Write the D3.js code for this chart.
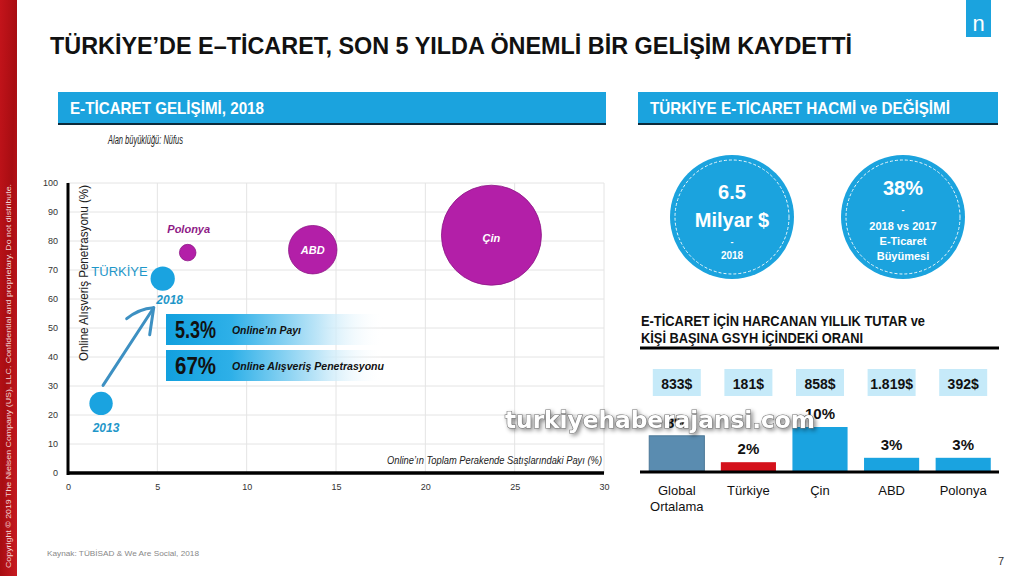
<!DOCTYPE html>
<html><head><meta charset="utf-8">
<script src="https://cdn.jsdelivr.net/npm/d3@7"></script>
<style>
html,body{margin:0;padding:0;background:#fff;}
svg{display:block;font-family:"Liberation Sans",Arial,sans-serif;}
</style></head>
<body>
<svg id="c" width="1024" height="576"></svg>
<script>
// ---------- DATA ----------
const scatterLabels = ["Türkiye 2013", "Türkiye 2018", "Polonya", "ABD", "Çin"];
const scatterX = [1.85, 5.3, 6.7, 13.7, 23.7];          // Online'ın toplam perakende satışlarındaki payı (%)
const scatterY = [24, 67, 76, 77, 82];                   // Online alışveriş penetrasyonu (%)
const population = [76, 82, 38, 327, 1393];              // Nüfus (milyon) – alan büyüklüğü
const scatterGroup = ["tr", "tr", "other", "other", "other"];
const xTicks = [0, 5, 10, 15, 20, 25, 30];
const yTicks = [0, 10, 20, 30, 40, 50, 60, 70, 80, 90, 100];

const barCategories = ["Global Ortalama", "Türkiye", "Çin", "ABD", "Polonya"];
const barPercent = [8, 2, 10, 3, 3];                     // Kişi başına GSYH içindeki oran (%)
const spendValues = ["833$", "181$", "858$", "1.819$", "392$"];
const barGroup = ["global", "tr", "other", "other", "other"];

const kpiMain = [["6.5", "Milyar $"], ["38%"]];
const kpiSub = [["2018"], ["2018 vs 2017", "E-Ticaret", "Büyümesi"]];

// ---------- SETUP ----------
const svg = d3.select("#c");
const BLUE = "#1ba3de";
const defs = svg.append("defs");

// left red stripe
const rg = defs.append("linearGradient").attr("id","red").attr("x1",0).attr("x2",1).attr("y1",0).attr("y2",1);
rg.append("stop").attr("offset",0).attr("stop-color","#c4141b");
rg.append("stop").attr("offset",0.5).attr("stop-color","#a80d12");
rg.append("stop").attr("offset",1).attr("stop-color","#c81c22");
svg.append("rect").attr("x",0).attr("y",0).attr("width",17).attr("height",576).attr("fill","url(#red)");
svg.append("text").attr("transform","translate(11,568) rotate(-90)")
  .attr("fill","#f3d6d6").attr("font-size",7.5)
  .attr("textLength",384).attr("lengthAdjust","spacingAndGlyphs")
  .text("Copyright © 2019 The Nielsen Company (US), LLC. Confidential and proprietary. Do not distribute.");

// logo
svg.append("rect").attr("x",966).attr("y",0).attr("width",25).attr("height",37).attr("fill",BLUE);
svg.append("text").attr("x",978.5).attr("y",31).attr("text-anchor","middle").attr("fill","#fff")
  .attr("font-size",22).text("n");

// title
svg.append("text").attr("x",50).attr("y",54).attr("font-size",24).attr("font-weight","bold").attr("fill","#111")
  .attr("textLength",802).attr("lengthAdjust","spacingAndGlyphs")
  .text("TÜRKİYE’DE E–TİCARET, SON 5 YILDA ÖNEMLİ BİR GELİŞİM KAYDETTİ");

// section headers
function header(x, w, txt, tl){
  svg.append("rect").attr("x",x).attr("y",92).attr("width",w).attr("height",31).attr("fill",BLUE);
  svg.append("rect").attr("x",x).attr("y",123).attr("width",w).attr("height",2).attr("fill","#0d2a3a");
  svg.append("text").attr("x",x+12).attr("y",114).attr("fill","#fff").attr("font-size",17).attr("font-weight","bold")
    .attr("textLength",tl).attr("lengthAdjust","spacingAndGlyphs").text(txt);
}
header(58, 548, "E-TİCARET GELİŞİMİ, 2018", 194);
header(638, 360, "TÜRKİYE E-TİCARET HACMİ ve DEĞİŞİMİ", 300);

svg.append("text").attr("x",108).attr("y",144).attr("font-size",12).attr("font-style","italic").attr("fill","#222")
  .attr("textLength",75).attr("lengthAdjust","spacingAndGlyphs").text("Alan büyüklüğü: Nüfus");

// ---------- SCATTER ----------
const x = d3.scaleLinear().domain([0,30]).range([68,604]);
const y = d3.scaleLinear().domain([0,100]).range([473,183]);
const r = d3.scaleSqrt().domain([0,1393]).range([0,50]);

const g = svg.append("g");
g.selectAll("line.vg").data(xTicks.slice(1)).join("line").attr("class","vg")
  .attr("x1",d=>x(d)).attr("x2",d=>x(d)).attr("y1",y(100)).attr("y2",y(0)).attr("stroke","#e4e4e4");
g.selectAll("line.hg").data(yTicks.slice(1)).join("line").attr("class","hg")
  .attr("x1",x(0)).attr("x2",x(30)).attr("y1",d=>y(d)).attr("y2",d=>y(d)).attr("stroke","#e4e4e4");

const xAxis = d3.axisBottom(x).tickValues(xTicks).tickSize(0).tickPadding(11);
const gx = g.append("g").attr("transform",`translate(0,${y(0)})`).call(xAxis);
gx.select(".domain").remove();
gx.selectAll("text").attr("font-size",9).attr("fill","#333").attr("font-family","Liberation Sans, Arial");
const yAxis = d3.axisLeft(y).tickValues(yTicks).tickSize(0).tickPadding(10);
const gy = g.append("g").attr("transform",`translate(${x(0)},0)`).call(yAxis);
gy.select(".domain").remove();
gy.selectAll("text").attr("font-size",9).attr("fill","#333").attr("font-family","Liberation Sans, Arial");

g.append("line").attr("x1",x(0)).attr("x2",x(0)).attr("y1",y(100)).attr("y2",y(0)+2).attr("stroke","#000").attr("stroke-width",3);
g.append("line").attr("x1",x(0)-1).attr("x2",x(30)).attr("y1",y(0)).attr("y2",y(0)).attr("stroke","#000").attr("stroke-width",3.5);

g.append("text").attr("transform",`translate(${x(0)+20},${y(100)+2}) rotate(-90)`).attr("text-anchor","end")
  .attr("font-size",13).attr("fill","#222")
  .attr("textLength",176).attr("lengthAdjust","spacingAndGlyphs").text("Online Alışveriş Penetrasyonu (%)");
g.append("text").attr("x",x(30)-2).attr("y",y(0)-9).attr("text-anchor","end")
  .attr("font-size",10).attr("font-style","italic").attr("fill","#222")
  .attr("textLength",215).attr("lengthAdjust","spacingAndGlyphs").text("Online’ın Toplam Perakende Satışlarındaki Payı (%)");

// arrow 2013 -> 2018
const ARC = "#3d90c2";
const tipX = x(scatterX[1]) - 9, tipY = y(scatterY[1]) + 29;
g.append("path").attr("d",`M${x(scatterX[0])+2},${y(scatterY[0])-18} L${tipX},${tipY}`)
  .attr("stroke",ARC).attr("stroke-width",3).attr("fill","none").attr("stroke-linecap","round");
g.append("path").attr("d",`M${tipX-27},${tipY+11} Q${tipX-15},${tipY+1} ${tipX},${tipY} L${tipX-4},${tipY+27}`)
  .attr("stroke",ARC).attr("stroke-width",3).attr("fill","none").attr("stroke-linejoin","round").attr("stroke-linecap","round");

const idx = d3.range(scatterLabels.length);
g.selectAll("circle.b").data(idx).join("circle").attr("class","b")
  .attr("cx",i=>x(scatterX[i])).attr("cy",i=>y(scatterY[i])).attr("r",i=>r(population[i]))
  .attr("fill",i=>scatterGroup[i]==="tr" ? "#1aa3e0" : "#b31fa8")
  .attr("stroke",i=>scatterGroup[i]==="tr" ? "none" : "#8d1585").attr("stroke-width",0.8);

// labels
const TRC = "#1f97c9";
g.append("text").attr("x",x(scatterX[1])-15).attr("y",y(scatterY[1])-3).attr("text-anchor","end")
  .attr("font-size",13).attr("fill",TRC).text("TÜRKİYE");
g.append("text").attr("x",x(scatterX[1])+7).attr("y",y(scatterY[1])+25).attr("text-anchor","middle")
  .attr("font-size",12).attr("font-style","italic").attr("font-weight","bold").attr("fill",TRC).text("2018");
g.append("text").attr("x",x(scatterX[0])+5).attr("y",y(scatterY[0])+29).attr("text-anchor","middle")
  .attr("font-size",12).attr("font-style","italic").attr("font-weight","bold").attr("fill",TRC).text("2013");
g.append("text").attr("x",x(scatterX[2])+1).attr("y",y(scatterY[2])-20).attr("text-anchor","middle")
  .attr("font-size",11).attr("font-style","italic").attr("font-weight","bold").attr("fill","#8e1a86").text("Polonya");
g.append("text").attr("x",x(scatterX[3])).attr("y",y(scatterY[3])+4).attr("text-anchor","middle")
  .attr("font-size",11).attr("font-style","italic").attr("font-weight","bold").attr("fill","#fff").text("ABD");
g.append("text").attr("x",x(scatterX[4])).attr("y",y(scatterY[4])+7).attr("text-anchor","middle")
  .attr("font-size",11).attr("font-style","italic").attr("font-weight","bold").attr("fill","#fff").text("Çin");

// callout boxes
const cg = defs.append("linearGradient").attr("id","fade").attr("x1",0).attr("x2",1).attr("y1",0).attr("y2",0);
cg.append("stop").attr("offset",0).attr("stop-color","#12a0de");
cg.append("stop").attr("offset",0.3).attr("stop-color","#2eb0e8");
cg.append("stop").attr("offset",0.7).attr("stop-color","#bfe6f8");
cg.append("stop").attr("offset",1).attr("stop-color","#ffffff").attr("stop-opacity",0);
const callouts = [{big: scatterX[1].toFixed(1)+"%", small:"Online’ın Payı", y0:314, tl:69},
                  {big: scatterY[1]+"%", small:"Online Alışveriş Penetrasyonu", y0:350, tl:152}];
callouts.forEach(c=>{
  svg.append("rect").attr("x",166).attr("y",c.y0).attr("width",218).attr("height",31).attr("fill","url(#fade)");
  svg.append("text").attr("x",175).attr("y",c.y0+24).attr("font-size",23).attr("font-weight","bold").attr("fill","#111")
    .attr("textLength",41).attr("lengthAdjust","spacingAndGlyphs").text(c.big);
  svg.append("text").attr("x",232).attr("y",c.y0+20).attr("font-size",11).attr("font-weight","bold").attr("font-style","italic").attr("fill","#111")
    .attr("textLength",c.tl).attr("lengthAdjust","spacingAndGlyphs").text(c.small);
});

// ---------- KPI CIRCLES ----------
const kpiCx = [732, 903];
kpiCx.forEach((cx,i)=>{
  svg.append("circle").attr("cx",cx).attr("cy",217).attr("r",62).attr("fill",BLUE);
  svg.append("circle").attr("cx",cx).attr("cy",217).attr("r",57).attr("fill","none").attr("stroke","#e8f6fc")
    .attr("stroke-width",1).attr("stroke-dasharray","3,2");
});
svg.append("text").attr("x",kpiCx[0]).attr("y",199).attr("text-anchor","middle").attr("fill","#fff").attr("font-size",20).attr("font-weight","bold").text(kpiMain[0][0]);
svg.append("text").attr("x",kpiCx[0]).attr("y",227).attr("text-anchor","middle").attr("fill","#fff").attr("font-size",20).attr("font-weight","bold").text(kpiMain[0][1]);
svg.append("text").attr("x",kpiCx[0]).attr("y",245).attr("text-anchor","middle").attr("fill","#fff").attr("font-size",9).attr("font-weight","bold").text("-");
svg.append("text").attr("x",kpiCx[0]).attr("y",259).attr("text-anchor","middle").attr("fill","#fff").attr("font-size",10).attr("font-weight","bold").text(kpiSub[0][0]);
svg.append("text").attr("x",kpiCx[1]).attr("y",195).attr("text-anchor","middle").attr("fill","#fff").attr("font-size",20).attr("font-weight","bold").text(kpiMain[1][0]);
svg.append("text").attr("x",kpiCx[1]).attr("y",213).attr("text-anchor","middle").attr("fill","#fff").attr("font-size",9).attr("font-weight","bold").text("-");
kpiSub[1].forEach((t,j)=>{
  svg.append("text").attr("x",kpiCx[1]).attr("y",230+j*15).attr("text-anchor","middle").attr("fill","#fff").attr("font-size",11).attr("font-weight","bold").text(t);
});

// ---------- BAR CHART ----------
svg.append("text").attr("x",641).attr("y",326).attr("font-size",14).attr("font-weight","bold").attr("fill","#111")
  .attr("textLength",284).attr("lengthAdjust","spacingAndGlyphs").text("E-TİCARET İÇİN HARCANAN YILLIK TUTAR ve");
svg.append("text").attr("x",641).attr("y",343).attr("font-size",14).attr("font-weight","bold").attr("fill","#111")
  .attr("textLength",222).attr("lengthAdjust","spacingAndGlyphs").text("KİŞİ BAŞINA GSYH İÇİNDEKİ ORANI");
svg.append("line").attr("x1",640).attr("x2",999).attr("y1",348).attr("y2",348).attr("stroke","#000").attr("stroke-width",3);

const bx = d3.scaleBand().domain(barCategories).range([641,999]).paddingInner(0.23).paddingOuter(0.115);
const by = d3.scaleLinear().domain([0,10]).range([471,427]);
const colorOf = {global:"#5a8cb0", tr:"#d4111b", other:"#1aa3e0"};

const bg = svg.append("g");
bg.selectAll("rect.sv").data(barCategories).join("rect").attr("class","sv")
  .attr("x",d=>bx(d)+bx.bandwidth()/2-24).attr("y",369).attr("width",48).attr("height",27).attr("fill","#c6eaf9");
bg.selectAll("text.sv").data(barCategories).join("text").attr("class","sv")
  .attr("x",d=>bx(d)+bx.bandwidth()/2).attr("y",389).attr("text-anchor","middle")
  .attr("font-size",14).attr("font-weight","bold").attr("fill","#111")
  .text((d,i)=>spendValues[i]);
bg.selectAll("rect.bar").data(barCategories).join("rect").attr("class","bar")
  .attr("x",d=>bx(d)).attr("width",bx.bandwidth())
  .attr("y",(d,i)=>by(barPercent[i])).attr("height",(d,i)=>by(0)-by(barPercent[i]))
  .attr("fill",(d,i)=>colorOf[barGroup[i]])
  .attr("stroke",(d,i)=>barGroup[i]==="global" ? "#4a7797" : "none");
bg.selectAll("text.pct").data(barCategories).join("text").attr("class","pct")
  .attr("x",d=>bx(d)+bx.bandwidth()/2).attr("y",(d,i)=>by(barPercent[i])-8).attr("text-anchor","middle")
  .attr("font-size",15).attr("font-weight","bold").attr("fill","#111")
  .text((d,i)=>barPercent[i]+"%");
svg.append("line").attr("x1",640).attr("x2",999).attr("y1",472).attr("y2",472).attr("stroke","#000").attr("stroke-width",3);
bg.selectAll("text.cat").data(barCategories).join("text").attr("class","cat")
  .attr("x",d=>bx(d)+bx.bandwidth()/2).attr("y",495).attr("text-anchor","middle")
  .attr("font-size",13).attr("fill","#111")
  .each(function(d){
    const parts = d.split(" ");
    d3.select(this).selectAll("tspan").data(parts).join("tspan")
      .attr("x",bx(d)+bx.bandwidth()/2).attr("dy",(p,k)=>k===0?0:16).text(p=>p);
  });

// watermark
svg.append("text").attr("x",660).attr("y",428).attr("text-anchor","middle")
  .attr("font-family","DejaVu Sans, Verdana").attr("font-size",23).attr("font-weight","bold")
  .attr("fill","#fff").attr("stroke","#777").attr("stroke-width",1.2).attr("paint-order","stroke")
  .attr("textLength",310).attr("lengthAdjust","spacingAndGlyphs")
  .style("filter","drop-shadow(2px 2px 2px rgba(0,0,0,0.45))")
  .text("turkiyehaberajansi.com");

// footer
svg.append("text").attr("x",47).attr("y",556).attr("font-size",8).attr("fill","#888")
  .attr("textLength",152).attr("lengthAdjust","spacingAndGlyphs").text("Kaynak: TÜBİSAD & We Are Social, 2018");
svg.append("text").attr("x",1004).attr("y",565).attr("text-anchor","end").attr("font-size",11).attr("fill","#333").text("7");
</script>
</body></html>
